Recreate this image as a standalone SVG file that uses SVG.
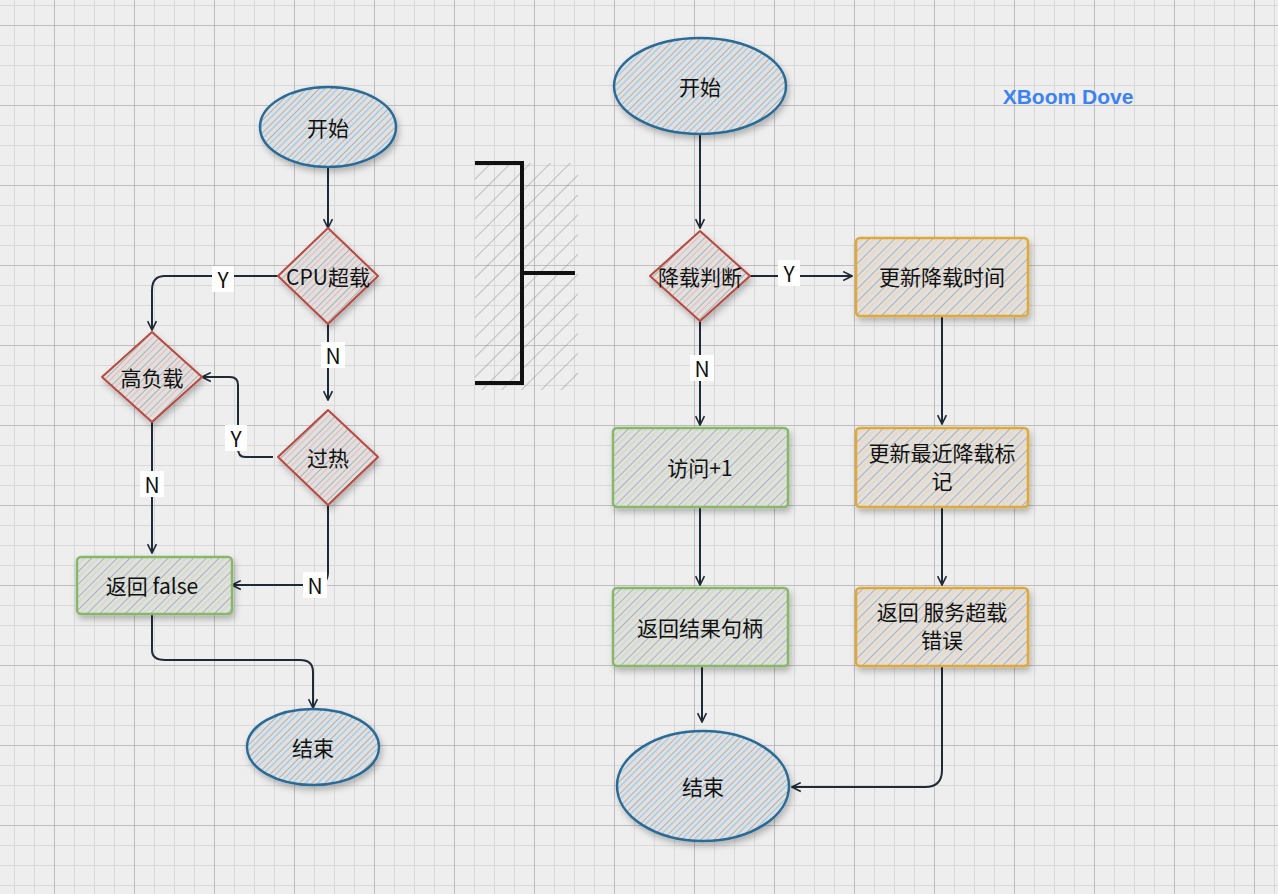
<svg xmlns="http://www.w3.org/2000/svg" width="1278" height="894" viewBox="0 0 1278 894">
<defs>
<pattern id="minor" width="20" height="20" patternUnits="userSpaceOnUse" x="14" y="5"><path d="M0 0V20M0 0H20" stroke="#d8d8d8" stroke-width="2" fill="none"/></pattern>
<pattern id="major" width="80" height="80" patternUnits="userSpaceOnUse" x="54" y="25"><path d="M0 0V80M0 0H80" stroke="#a39fa0" stroke-width="1" fill="none"/></pattern>
<pattern id="hb" width="9" height="9" patternUnits="userSpaceOnUse" patternTransform="rotate(45)"><rect width="9" height="9" fill="#e0e0e0"/><path d="M0 0V9" stroke="#808080" stroke-width="1"/><path d="M4.5 0V9" stroke="#9cc6e2" stroke-width="1.2"/></pattern>
<pattern id="hr" width="9" height="9" patternUnits="userSpaceOnUse" patternTransform="rotate(45)"><rect width="9" height="9" fill="#e0e0e0"/><path d="M0 0V9" stroke="#808080" stroke-width="1"/><path d="M4.5 0V9" stroke="#e8bcb6" stroke-width="1.2"/></pattern>
<pattern id="hg" width="9" height="9" patternUnits="userSpaceOnUse" patternTransform="rotate(45)"><rect width="9" height="9" fill="#e0e0e0"/><path d="M0 0V9" stroke="#808080" stroke-width="1"/><path d="M4.5 0V9" stroke="#cadcbc" stroke-width="1.2"/></pattern>
<pattern id="ho" width="9" height="9" patternUnits="userSpaceOnUse" patternTransform="rotate(45)"><rect width="9" height="9" fill="#e0e0e0"/><path d="M0 0V9" stroke="#808080" stroke-width="1"/><path d="M4.5 0V9" stroke="#f0d4ac" stroke-width="1.2"/></pattern>
<pattern id="hw" width="14" height="14" patternUnits="userSpaceOnUse" patternTransform="rotate(45)"><path d="M0 0V14" stroke="#909090" stroke-width="1"/></pattern>
<filter id="sh" x="-20%" y="-20%" width="140%" height="150%"><feDropShadow dx="2" dy="4" stdDeviation="3" flood-color="#000" flood-opacity="0.25"/></filter>
<marker id="ar" viewBox="0 0 10 10" refX="9" refY="5" markerWidth="11" markerHeight="11" orient="auto" markerUnits="userSpaceOnUse"><path d="M1 1L9 5L1 9" fill="none" stroke="#1e2a36" stroke-width="1.5"/></marker>
</defs>
<style>
text{font-family:"Noto Sans CJK SC","Liberation Sans",sans-serif;font-size:21px;fill:#111;text-anchor:middle;dominant-baseline:central}
.b{stroke:#2a6a96;stroke-width:2.5;fill:url(#hb);filter:url(#sh)}
.r{stroke:#b84a40;stroke-width:2;fill:url(#hr);filter:url(#sh)}
.g{stroke:#86b868;stroke-width:2.5;fill:url(#hg);filter:url(#sh)}
.o{stroke:#e0a838;stroke-width:2.5;fill:url(#ho);filter:url(#sh)}
.c{stroke:#1e2a36;stroke-width:2;fill:none;marker-end:url(#ar)}
.lb{fill:#fff}
</style>
<rect width="1278" height="894" fill="#eeeeee"/>
<rect width="1278" height="894" fill="url(#minor)"/>
<rect width="1278" height="894" fill="url(#major)"/>
<text x="1068" y="96" style="fill:#3b82f6;font-weight:bold;font-family:'Liberation Sans',sans-serif" font-size="20">XBoom Dove</text>
<g id="bracket"><rect x="475" y="163" width="103" height="227" fill="url(#hw)"/><path d="M475 163H522V383H475M522 273H575" stroke="#111" stroke-width="4" fill="none"/></g>
<g id="connectors">
<path class="c" d="M328 167V228"/>
<path class="c" d="M278 276H165Q152 276 152 290V330"/>
<path class="c" d="M328 324V400"/>
<path class="c" d="M273 457H245Q238 457 238 448V385Q238 377 230 377H202"/>
<path class="c" d="M152 422V553"/>
<path class="c" d="M328 505V572Q328 585 315 585H232"/>
<path class="c" d="M152 614V650Q152 660 165 660H300Q313 660 313 672V708"/>
<path class="c" d="M700 134V228"/>
<path class="c" d="M750 276H852"/>
<path class="c" d="M700 321V425"/>
<path class="c" d="M700 507V585"/>
<path class="c" d="M702 666V722"/>
<path class="c" d="M942 316V424"/>
<path class="c" d="M942 507V585"/>
<path class="c" d="M942 666V770Q942 787 925 787H792"/>
<rect class="lb" x="212" y="266" width="22" height="26"/><text x="223" y="279">Y</text>
<rect class="lb" x="321" y="342" width="24" height="26"/><text x="333" y="355">N</text>
<rect class="lb" x="225" y="425" width="22" height="26"/><text x="236" y="438">Y</text>
<rect class="lb" x="140" y="471" width="24" height="26"/><text x="152" y="484">N</text>
<rect class="lb" x="303" y="572" width="24" height="26"/><text x="315" y="585">N</text>
<rect class="lb" x="778" y="260" width="22" height="26"/><text x="789" y="273">Y</text>
<rect class="lb" x="690" y="355" width="24" height="26"/><text x="702" y="368">N</text>
</g>
<g id="l_start"><ellipse class="b" cx="328" cy="127" rx="68" ry="40"/><text x="328" y="127">开始</text></g>
<g id="l_cpu"><path class="r" d="M328 228L378 276L328 324L278 276Z" stroke-linejoin="round"/><text x="328" y="276">CPU超载</text></g>
<g id="l_high"><path class="r" d="M152 332L202 377L152 422L102 377Z" stroke-linejoin="round"/><text x="152" y="377">高负载</text></g>
<g id="l_hot"><path class="r" d="M328 410L378 457L328 505L278 457Z" stroke-linejoin="round"/><text x="328" y="457">过热</text></g>
<g id="l_false"><rect class="g" x="77" y="557" width="155" height="57" rx="4"/><text x="152" y="585">返回 false</text></g>
<g id="l_end"><ellipse class="b" cx="313" cy="747" rx="66" ry="38"/><text x="313" y="747">结束</text></g>
<g id="r_start"><ellipse class="b" cx="700" cy="86" rx="86" ry="48"/><text x="700" y="86">开始</text></g>
<g id="r_judge"><path class="r" d="M700 231L750 276L700 321L650 276Z" stroke-linejoin="round"/><text x="700" y="276">降载判断</text></g>
<g id="r_upd"><rect class="o" x="856" y="238" width="172" height="78" rx="4"/><text x="942" y="276">更新降载时间</text></g>
<g id="r_visit"><rect class="g" x="613" y="428" width="175" height="79" rx="4"/><text x="700" y="467">访问+1</text></g>
<g id="r_mark"><rect class="o" x="856" y="428" width="172" height="79" rx="4"/><text x="942" y="452">更新最近降载标</text><text x="942" y="480">记</text></g>
<g id="r_handle"><rect class="g" x="613" y="588" width="175" height="78" rx="4"/><text x="700" y="627">返回结果句柄</text></g>
<g id="r_err"><rect class="o" x="856" y="588" width="172" height="78" rx="4"/><text x="942" y="611">返回 服务超载</text><text x="942" y="639">错误</text></g>
<g id="r_end"><ellipse class="b" cx="703" cy="786" rx="86" ry="55"/><text x="703" y="786">结束</text></g>
</svg>
